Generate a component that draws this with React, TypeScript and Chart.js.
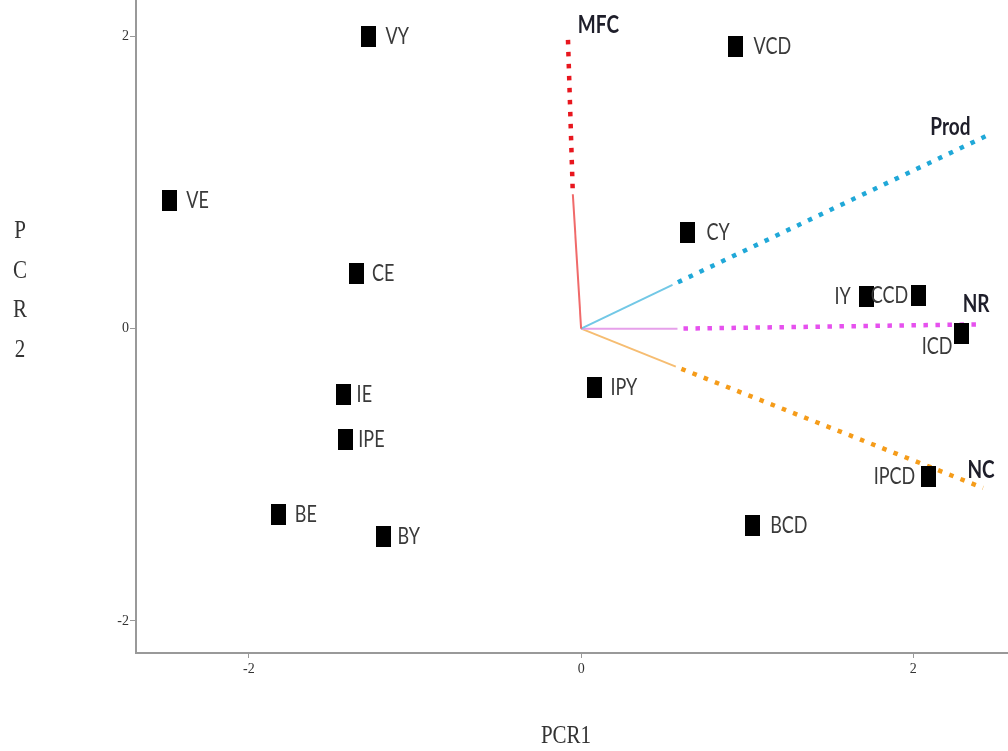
import React, { useEffect, useRef } from "react";
import { Chart, registerables } from "chart.js";

Chart.register(...registerables);

// Observations (scores)
const pointNames = ["VY", "VCD", "VE", "CE", "CY", "IY", "CCD", "ICD", "IE", "IPE", "IPY", "IPCD", "BE", "BY", "BCD"];
const pcr1 = [-1.28, 0.93, -2.48, -1.35, 0.64, 1.72, 2.03, 2.29, -1.43, -1.42, 0.08, 2.09, -1.82, -1.19, 1.03];
const pcr2 = [2.0, 1.93, 0.88, 0.38, 0.66, 0.22, 0.23, -0.03, -0.45, -0.76, -0.4, -1.01, -1.27, -1.42, -1.35];

// Variable vectors
const vectorNames = ["MFC", "Prod", "NR", "NC"];
const innerX = [-0.05, 0.55, 0.58, 0.57];
const innerY = [0.92, 0.3, 0.0, -0.26];
const outerX = [-0.08, 2.44, 2.42, 2.42];
const outerY = [2.01, 1.32, 0.03, -1.09];
const solidColors = ["#f06a6a", "#72c8e6", "#e6a0ea", "#f6bd72"];
const dotColors = ["#e8161e", "#20a8d8", "#e651ee", "#f59c1a"];

// Axis ticks
const xTicks = [-2, 0, 2];
const yTicks = [-2, 0, 2];
const xRange = [-2.68, 2.57];
const yRange = [-2.22, 2.25];

const labelFont = "Lato, 'Open Sans', sans-serif";

export default function App() {
  const ref = useRef<HTMLCanvasElement | null>(null);

  useEffect(() => {
    if (!ref.current) return;
    const sq = document.createElement("canvas");
    sq.width = 15;
    sq.height = 21;
    const sctx = sq.getContext("2d")!;
    sctx.fillStyle = "#000";
    sctx.fillRect(0, 0, 15, 21);

    const datasets: any[] = [];
    vectorNames.forEach((_, i) => {
      datasets.push({
        label: vectorNames[i] + "-solid",
        data: [{ x: 0, y: 0 }, { x: innerX[i], y: innerY[i] }],
        showLine: true,
        borderColor: solidColors[i],
        borderWidth: 2,
        pointRadius: 0,
        order: 3,
      });
      datasets.push({
        label: vectorNames[i] + "-dots",
        data: [{ x: innerX[i], y: innerY[i] }, { x: outerX[i], y: outerY[i] }],
        showLine: true,
        borderColor: dotColors[i],
        borderWidth: 4.5,
        borderDash: [4.5, 7.5],
        borderDashOffset: -6,
        pointRadius: 0,
        order: 2,
      });
    });
    datasets.push({
      label: "obs",
      data: pcr1.map((x, i) => ({ x, y: pcr2[i] })),
      pointStyle: sq,
      pointRadius: 8,
      backgroundColor: "#000",
      borderColor: "#000",
      showLine: false,
      order: 1,
    });

    const place: Record<string, [number, number, CanvasTextAlign]> = {
      VY: [17, 0, "left"], VCD: [18, 0, "left"], VE: [17, 0, "left"], CE: [15, 0, "left"],
      CY: [19, 0, "left"], IY: [-16, 0, "right"], CCD: [-10, 0, "right"], ICD: [-9, 13, "right"],
      IE: [13, 0, "left"], IPE: [13, 0, "left"], IPY: [16, 0, "left"], IPCD: [-13, 0, "right"],
      BE: [16, 0, "left"], BY: [14, 0, "left"], BCD: [18, 0, "left"],
    };
    const vplace: Record<string, [number, number, CanvasTextAlign]> = {
      MFC: [10, -10, "left"], Prod: [-16, -9, "right"], NR: [-7, -20, "center"], NC: [-2, -18, "center"],
    };

    const drawText = (ctx: CanvasRenderingContext2D, t: string, x: number, y: number, align: CanvasTextAlign, font: string, color: string, sy: number) => {
      ctx.save();
      ctx.translate(x, y);
      ctx.scale(1, sy);
      ctx.font = font;
      ctx.fillStyle = color;
      ctx.textAlign = align;
      ctx.textBaseline = "middle";
      ctx.fillText(t, 0, 0);
      ctx.restore();
    };

    const labels = {
      id: "labels",
      afterDatasetsDraw(chart: any) {
        const ctx = chart.ctx as CanvasRenderingContext2D;
        const xs = chart.scales.x;
        const ys = chart.scales.y;
        pointNames.forEach((n, i) => {
          const p = place[n];
          const px = xs.getPixelForValue(pcr1[i]);
          const py = ys.getPixelForValue(pcr2[i]);
          drawText(ctx, n, px + p[0], py + p[1], p[2], `18px ${labelFont}`, "#3a3a3a", 1.28);
        });
        vectorNames.forEach((n, i) => {
          const p = vplace[n];
          const px = xs.getPixelForValue(outerX[i]);
          const py = ys.getPixelForValue(outerY[i]);
          drawText(ctx, n, px + p[0], py + p[1], p[2], `bold 19px ${labelFont}`, "#1e1e2a", 1.25);
        });
        // axis titles
        drawText(ctx, "PCR1", 566, 737, "center", "21px 'Liberation Serif', serif", "#333", 1.15);
        ["P", "C", "R", "2"].forEach((c, k) => {
          drawText(ctx, c, 20, 232 + k * 39.5, "center", "21px 'Liberation Serif', serif", "#333", 1.15);
        });
      },
    };

    const chart = new Chart(ref.current, {
      type: "scatter",
      data: { datasets },
      options: {
        animation: false,
        responsive: false,
        maintainAspectRatio: false,
        layout: { padding: 0, autoPadding: false },
        plugins: { legend: { display: false }, tooltip: { enabled: false } },
        scales: {
          x: {
            type: "linear",
            min: xRange[0],
            max: xRange[1],
            afterFit: (s: any) => { s.height = 98; s.paddingLeft = 0; s.paddingRight = 0; },
            afterBuildTicks: (s: any) => { s.ticks = xTicks.map((v) => ({ value: v })); },
            ticks: { font: { family: "'Liberation Serif', serif", size: 14 }, color: "#333", padding: 3 },
            grid: { drawOnChartArea: false, drawTicks: true, tickLength: 5, color: "#999", lineWidth: 1 },
            border: { display: true, color: "#999", width: 2 },
          },
          y: {
            type: "linear",
            min: yRange[0],
            max: yRange[1],
            afterFit: (s: any) => { s.width = 136; s.paddingTop = 0; s.paddingBottom = 0; },
            afterBuildTicks: (s: any) => { s.ticks = yTicks.map((v) => ({ value: v })); },
            ticks: { font: { family: "'Liberation Serif', serif", size: 14 }, color: "#333", padding: 1 },
            grid: { drawOnChartArea: false, drawTicks: true, tickLength: 6, color: "#999", lineWidth: 1 },
            border: { display: true, color: "#999", width: 2 },
          },
        },
      },
      plugins: [labels],
    });
    return () => chart.destroy();
  }, []);

  return (
    <div style={{ position: "fixed", left: 0, top: 0, width: 1008, height: 751, background: "#fff" }}>
      <canvas ref={ref} width={1008} height={751} style={{ width: 1008, height: 751 }} />
    </div>
  );
}
